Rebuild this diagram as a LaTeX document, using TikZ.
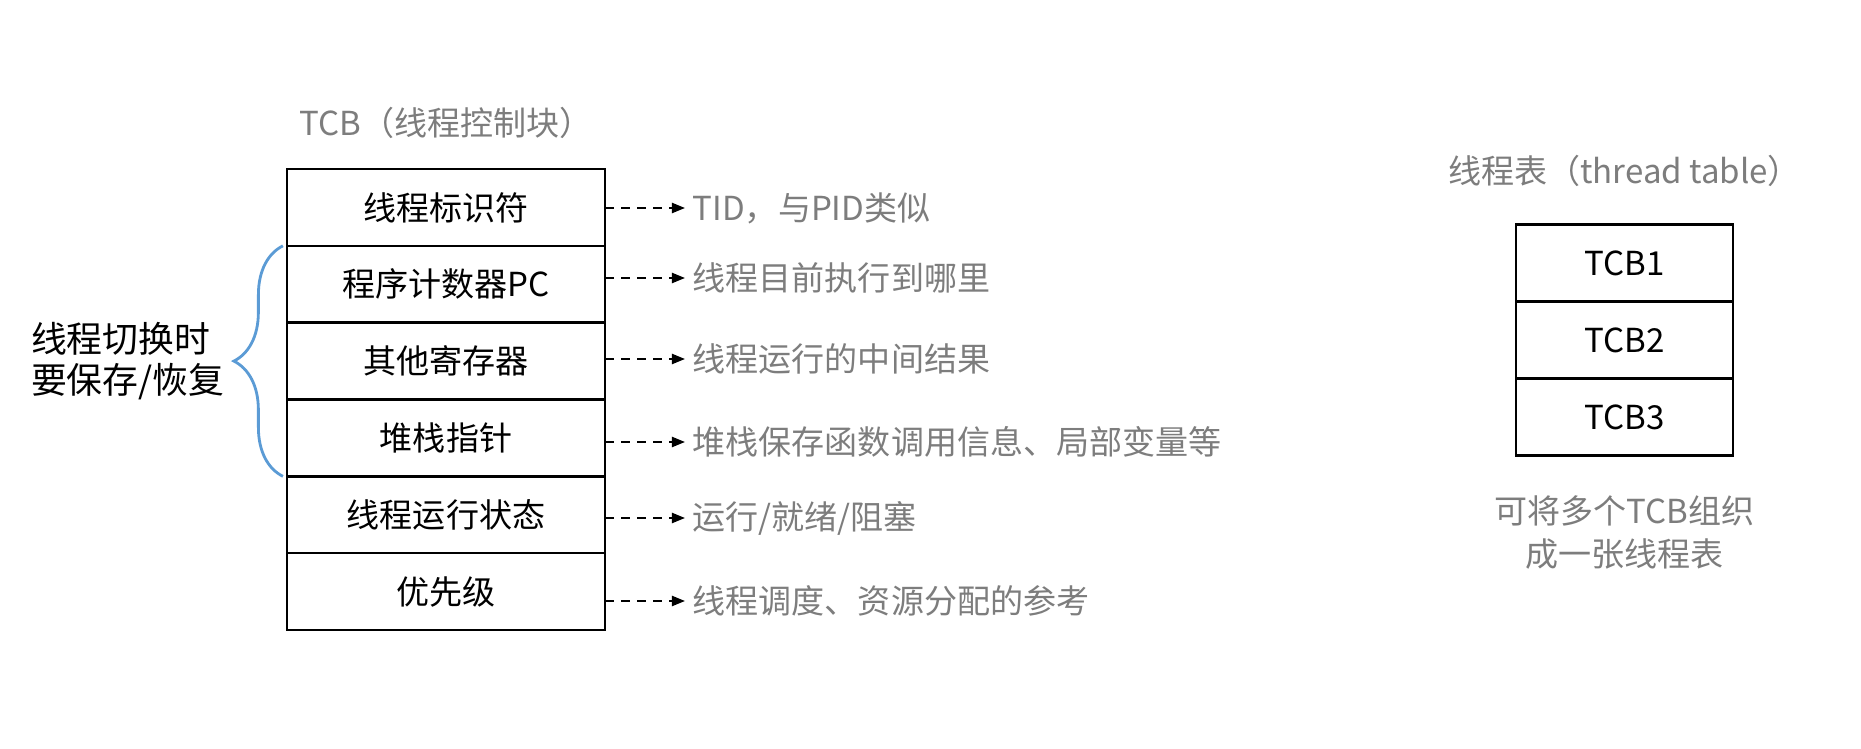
\documentclass[tikz,border=0pt]{standalone}
\usepackage{fontspec}
\setmainfont{Noto Sans CJK SC}
\usetikzlibrary{positioning,arrows.meta,decorations.pathreplacing}

\definecolor{notegray}{RGB}{125,125,125}
\definecolor{braceblue}{RGB}{91,155,213}

\tikzset{
	field/.style={draw, line width=0.7pt, outer sep=0pt, minimum width=3.18cm, minimum height=0.768cm, inner sep=0pt, font=\fontsize{9.4}{11}\selectfont},
	entry/.style={field, minimum width=2.17cm, minimum height=0.77cm},
	remark/.style={inner sep=0pt, text=notegray, font=\fontsize{9.4}{12.2}\selectfont},
	pointer/.style={line width=0.6pt, dash pattern=on 0.09cm off 0.07cm, -{Triangle[length=0.13cm,width=0.1cm]}, shorten >=0.07cm},
	curly/.style={braceblue, line width=0.8pt, decorate, decoration={brace, amplitude=0.49cm}}
}

\begin{document}
\begin{tikzpicture}[x=0.01cm, y=-0.01cm]
	% Canvas
	\useasboundingbox (0,0) rectangle (1861,749);
	
	% TCB fields
	\node[field] (r1) at (446,207.4) {线程标识符};
	\foreach \i/\t [remember=\i as \j (initially 1)] in {2/程序计数器PC, 3/其他寄存器, 4/堆栈指针, 5/线程运行状态, 6/优先级}
	\node[field, below=0pt of r\j] (r\i) {\t};
	\node[remark, above=0.3cm of r1] (tcb) {TCB（线程控制块）};
	
	% Remarks
	\foreach \i/\y/\t in {1/208/{TID，与PID类似}, 2/278/{线程目前执行到哪里}, 3/359/{线程运行的中间结果}, 4/442/{堆栈保存函数调用信息、局部变量等}, 5/518/{运行/就绪/阻塞}, 6/601/{线程调度、资源分配的参考}}
	\node[remark, anchor=west] (n\i) at (692,\y) {\t};
	\foreach \i in {1,...,6}
	\draw[pointer] (r\i.east |- n\i.west) -- (n\i.west);
	
	% Brace
	\draw[curly] ([xshift=-0.04cm]r4.south west) -- node[left=0.57cm, inner sep=0pt, text=black, align=left, font=\fontsize{10.2}{11.9}\selectfont] (save) {线程切换时\\要保存/恢复} ([xshift=-0.04cm]r2.north west);
	
	% Thread table
	\node[entry] (t1) at (1624.5,263) {TCB1};
	\foreach \i [remember=\i as \j (initially 1)] in {2,3}
	\node[entry, below=0pt of t\j] (t\i) {TCB\i};
	\node[remark, above=0.37cm of t1] (table) {线程表（thread table）};
	\node[remark, below=0.39cm of t3, align=center] (hint) {可将多个TCB组织\\成一张线程表};
\end{tikzpicture}
\end{document}
